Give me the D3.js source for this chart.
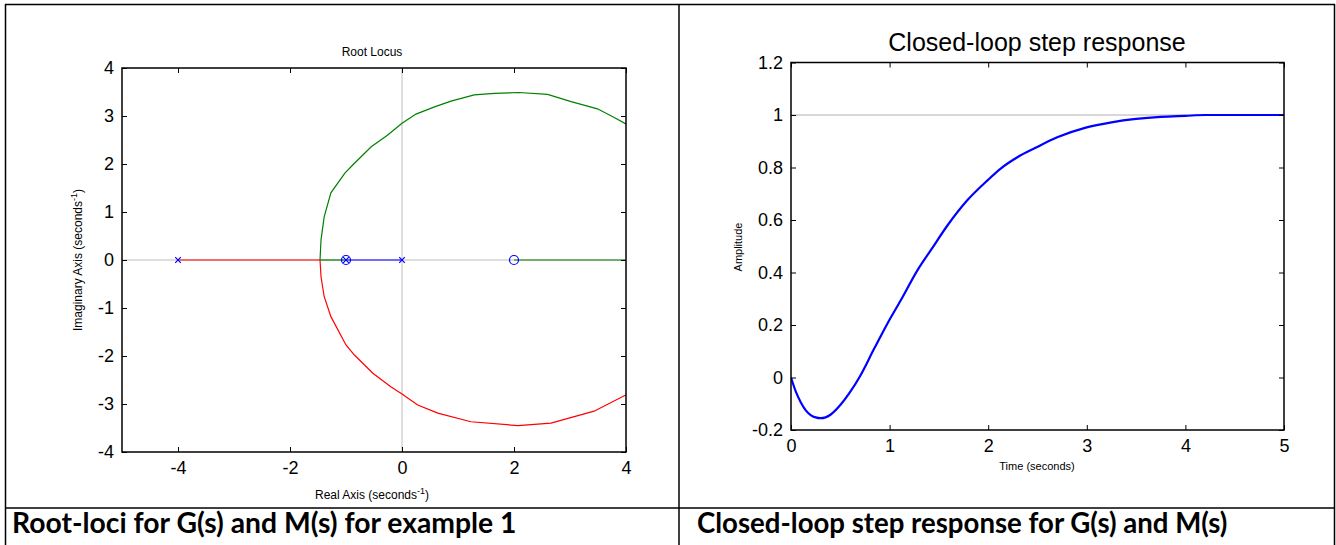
<!DOCTYPE html>
<html>
<head>
<meta charset="utf-8">
<script src="https://cdn.jsdelivr.net/npm/d3@7"></script>
<style>
  body { margin: 0; background: #fff; }
  svg { display: block; }
  .tick line { stroke: #000; }
</style>
</head>
<body>
<div id="chart"></div>
<script>
// ---- root locus data ----
const rlTicksX = [-4, -2, 0, 2, 4];
const rlTicksY = [-4, -3, -2, -1, 0, 1, 2, 3, 4];
const rlUpper = [[-1.464,0],[-1.446,0.42],[-1.39,0.90],[-1.27,1.40],[-1.02,1.81],[-0.88,1.98],[-0.55,2.36],[-0.26,2.60],[0,2.85],[0.25,3.04],[0.58,3.19],[0.875,3.31],[1.29,3.44],[1.65,3.47],[2.09,3.49],[2.60,3.45],[3.02,3.30],[3.49,3.15],[3.79,2.97],[4.05,2.80]];
const rlLower = [[-1.464,0],[-1.446,-0.35],[-1.39,-0.76],[-1.27,-1.18],[-1.0,-1.77],[-0.85,-1.98],[-0.52,-2.36],[-0.20,-2.64],[0,-2.79],[0.28,-3.02],[0.64,-3.19],[1.23,-3.37],[2.07,-3.45],[2.66,-3.40],[3.43,-3.15],[4.05,-2.78]];
const rlRedAxis = [[-4,0],[-1.464,0]];
const rlGreenAxis1 = [[-1.464,0],[-1,0]];
const rlBlueAxis = [[-1,0],[0,0]];
const rlGreenAxis2 = [[2,0],[5,0]];
const poles = [-4, -1, 0];
const zeros = [-1, 2];

// ---- step response data ----
const stTicksX = [0, 1, 2, 3, 4, 5];
const stTicksY = [-0.2, 0, 0.2, 0.4, 0.6, 0.8, 1, 1.2];
const stepT = [0,0.05,0.1,0.15,0.2,0.25,0.3,0.35,0.4,0.5,0.6,0.7,0.845,0.98,1.115,1.285,1.42,1.59,1.79,1.995,2.13,2.3,2.48,2.7,2.99,3.25,3.5,3.75,4.0,4.2,4.5,5.0];
const stepY = [0,-0.055,-0.095,-0.125,-0.143,-0.152,-0.155,-0.152,-0.142,-0.105,-0.055,0.005,0.111,0.207,0.295,0.41,0.486,0.581,0.676,0.752,0.797,0.84,0.875,0.915,0.952,0.972,0.985,0.993,0.997,1.0,1.0,1.0];

const W = 1336, H = 545;
const svg = d3.select('#chart').append('svg')
    .attr('width', W).attr('height', H);

const axisFont = 'Arial, "Liberation Sans", sans-serif';
const captionFont = 'Lato, "Open Sans", sans-serif';

// plain hyphen instead of unicode minus, like the original
const fmtInt = d => String(d);
const fmtStep = d => (d === 0 || d === 1) ? String(d) : d.toFixed(1);

// table borders
const table = svg.append('g').attr('stroke', '#000').attr('stroke-width', 1.5);
table.append('line').attr('x1', 5).attr('x2', 1335).attr('y1', 4.5).attr('y2', 4.5);
table.append('line').attr('x1', 5.5).attr('x2', 5.5).attr('y1', 4).attr('y2', 545);
table.append('line').attr('x1', 679).attr('x2', 679).attr('y1', 4).attr('y2', 545);
table.append('line').attr('x1', 1334.5).attr('x2', 1334.5).attr('y1', 4).attr('y2', 545);
table.append('line').attr('x1', 5).attr('x2', 1335).attr('y1', 508).attr('y2', 508);

// captions
svg.append('text').attr('x', 12).attr('y', 533)
    .attr('font-family', captionFont).attr('font-weight', 'bold')
    .attr('font-size', '28.3px').text('Root-loci for G(s) and M(s) for example 1');
svg.append('text').attr('x', 697).attr('y', 533)
    .attr('font-family', captionFont).attr('font-weight', 'bold')
    .attr('font-size', '27.6px').text('Closed-loop step response for G(s) and M(s)');

// helper: boxed axes with inward ticks on all four sides
const drawFrame = (g, x, y, ticksX, ticksY, fmtX, fmtY) => {
    let [x0, x1] = x.range();
    let [y0, y1] = y.range();
    g.append('g').attr('transform', `translate(0,${y0})`)
        .call(d3.axisBottom(x).tickValues(ticksX).tickSizeInner(-5).tickSizeOuter(0).tickPadding(9).tickFormat(fmtX))
        .call(a => a.select('.domain').remove())
        .call(a => a.selectAll('text').attr('font-size', '18px').attr('font-family', axisFont));
    g.append('g').attr('transform', `translate(0,${y1})`)
        .call(d3.axisTop(x).tickValues(ticksX).tickSizeInner(-5).tickSizeOuter(0).tickFormat(''))
        .call(a => a.select('.domain').remove());
    g.append('g').attr('transform', `translate(${x0},0)`)
        .call(d3.axisLeft(y).tickValues(ticksY).tickSizeInner(-5).tickSizeOuter(0).tickPadding(8).tickFormat(fmtY))
        .call(a => a.select('.domain').remove())
        .call(a => a.selectAll('text').attr('font-size', '18px').attr('font-family', axisFont));
    g.append('g').attr('transform', `translate(${x1},0)`)
        .call(d3.axisRight(y).tickValues(ticksY).tickSizeInner(-5).tickSizeOuter(0).tickFormat(''))
        .call(a => a.select('.domain').remove());
    g.append('rect')
        .attr('x', x0).attr('y', y1).attr('width', x1 - x0).attr('height', y0 - y1)
        .attr('fill', 'none').attr('stroke', '#000').attr('stroke-width', 1.5);
};

// ================= Root locus =================
let rl = svg.append('g');
let xRL = d3.scaleLinear().domain([-5, 4]).range([122, 626]);
let yRL = d3.scaleLinear().domain([-4, 4]).range([452, 68]);

svg.append('clipPath').attr('id', 'clipRL').append('rect')
    .attr('x', 122).attr('y', 68).attr('width', 504).attr('height', 384);

let rlPlot = rl.append('g').attr('clip-path', 'url(#clipRL)');
rlPlot.append('line').attr('x1', xRL(0)).attr('x2', xRL(0)).attr('y1', yRL(4)).attr('y2', yRL(-4))
    .attr('stroke', '#bdbdbd').attr('stroke-width', 1);
rlPlot.append('line').attr('x1', xRL(-5)).attr('x2', xRL(4)).attr('y1', yRL(0)).attr('y2', yRL(0))
    .attr('stroke', '#bdbdbd').attr('stroke-width', 1);

let rlLine = d3.line().x(d => xRL(d[0])).y(d => yRL(d[1]));
[[rlUpper, '#008000'], [rlLower, '#ff0000'], [rlRedAxis, '#ff0000'],
 [rlGreenAxis1, '#008000'], [rlBlueAxis, '#0000ff'], [rlGreenAxis2, '#008000']]
    .forEach(([data, color]) => {
        rlPlot.append('path').datum(data).attr('d', rlLine)
            .attr('fill', 'none').attr('stroke', color).attr('stroke-width', 1.2);
    });

// zeros (circles) and poles (x)
rlPlot.selectAll('circle.zero').data(zeros).enter().append('circle')
    .attr('cx', d => xRL(d)).attr('cy', yRL(0)).attr('r', 4.5)
    .attr('fill', 'none').attr('stroke', '#0000ff').attr('stroke-width', 1.2);
poles.forEach(p => {
    let cx = xRL(p), cy = yRL(0), s = 2.8;
    rlPlot.append('path')
        .attr('d', `M${cx - s},${cy - s}L${cx + s},${cy + s}M${cx - s},${cy + s}L${cx + s},${cy - s}`)
        .attr('stroke', '#0000ff').attr('stroke-width', 1.2);
});

drawFrame(rl, xRL, yRL, rlTicksX, rlTicksY, fmtInt, fmtInt);

rl.append('text').attr('x', 372).attr('y', 56).attr('text-anchor', 'middle')
    .attr('font-family', axisFont).attr('font-size', '12px').text('Root Locus');

let rlxl = rl.append('text').attr('x', 372).attr('y', 499).attr('text-anchor', 'middle')
    .attr('font-family', axisFont).attr('font-size', '12px');
rlxl.append('tspan').text('Real Axis (seconds');
rlxl.append('tspan').attr('dy', -5).attr('font-size', '9px').text('-1');
rlxl.append('tspan').attr('dy', 5).text(')');

let rlyl = rl.append('text').attr('transform', 'translate(82,260) rotate(-90)').attr('text-anchor', 'middle')
    .attr('font-family', axisFont).attr('font-size', '12px');
rlyl.append('tspan').text('Imaginary Axis (seconds');
rlyl.append('tspan').attr('dy', -5).attr('font-size', '9px').text('-1');
rlyl.append('tspan').attr('dy', 5).text(')');

// ================= Step response =================
let st = svg.append('g');
let xST = d3.scaleLinear().domain([0, 5]).range([791, 1284]);
let yST = d3.scaleLinear().domain([-0.2, 1.2]).range([430, 62.5]);

svg.append('clipPath').attr('id', 'clipST').append('rect')
    .attr('x', 791).attr('y', 62).attr('width', 493).attr('height', 368);

let stPlot = st.append('g').attr('clip-path', 'url(#clipST)');
stPlot.append('line').attr('x1', xST(0)).attr('x2', xST(5)).attr('y1', yST(1)).attr('y2', yST(1))
    .attr('stroke', '#b0b0b0').attr('stroke-width', 1);

let stepData = stepT.map((t, i) => [t, stepY[i]]);
stPlot.append('path').datum(stepData)
    .attr('d', d3.line().x(d => xST(d[0])).y(d => yST(d[1])).curve(d3.curveMonotoneX))
    .attr('fill', 'none').attr('stroke', '#0000ff').attr('stroke-width', 2.2);

drawFrame(st, xST, yST, stTicksX, stTicksY, fmtInt, fmtStep);

st.append('text').attr('x', 1037).attr('y', 51).attr('text-anchor', 'middle')
    .attr('font-family', axisFont).attr('font-size', '25px').text('Closed-loop step response');
st.append('text').attr('x', 1037).attr('y', 470).attr('text-anchor', 'middle')
    .attr('font-family', axisFont).attr('font-size', '11px').text('Time (seconds)');
st.append('text').attr('transform', 'translate(742,247) rotate(-90)').attr('text-anchor', 'middle')
    .attr('font-family', axisFont).attr('font-size', '11px').text('Amplitude');
</script>
</body>
</html>
